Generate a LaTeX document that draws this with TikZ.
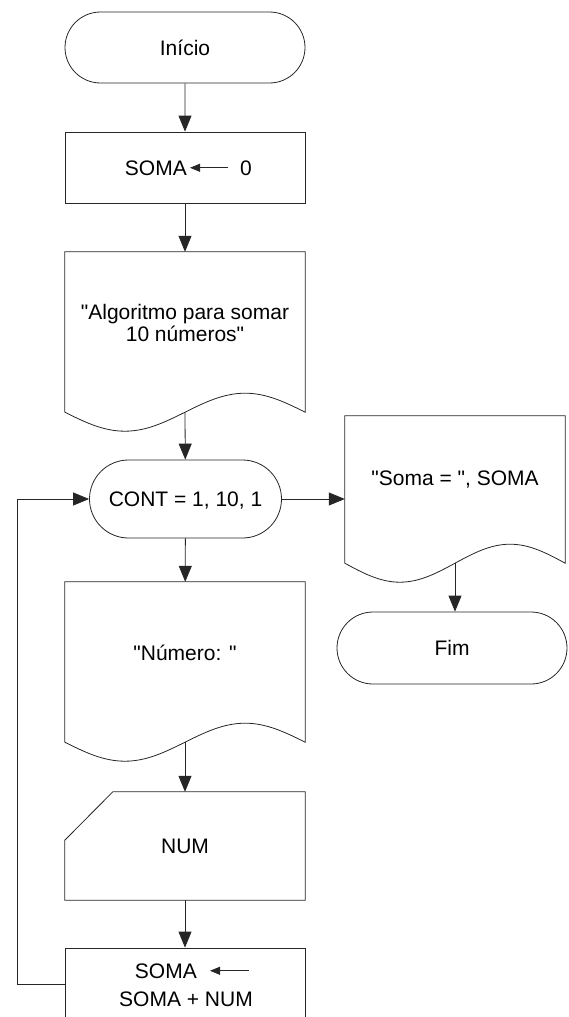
\documentclass[tikz,border=0pt]{standalone}
\usepackage{fontspec}
\setmainfont{Liberation Sans}
\usetikzlibrary{arrows.meta,calc,shapes.misc}

\newcommand{\aspas}{\textquotedbl}

\begin{document}
\begin{tikzpicture}[x=1pt, y=-1pt,
  every node/.style = {font=\fontsize{21}{22}\selectfont, inner sep=0pt},
  linha/.style = {line width=0.8pt, draw=black!85},
  terminal/.style = {
    linha, shape=rounded rectangle,
    text height=15pt, text depth=0pt,
  },
  processo/.style = {
    linha, shape=rectangle,
    minimum width=240pt, minimum height=71pt,
  },
  documento/.style = {shape=rectangle, align=center},
  seta/.style = {linha, -{Triangle[length=16pt,width=13pt]}},
  setinha/.style = {linha, -{Triangle[length=10pt,width=8pt]}},
]
  \useasboundingbox (0,0) rectangle (568,1017);

  \node[name=inicio, terminal, minimum width=240pt, minimum height=71pt]
    at (185,47.5) {Início};

  \node[name=zero, processo] at (185,167.5) {};
  \node[name=soma0, anchor=base east] at (187,175) {SOMA};
  \node[name=val0, anchor=base west] at (240,175) {0};
  \draw[setinha] ([xshift=-12pt]val0.west) -- ([xshift=3pt]soma0.east);

  \node[name=titulo, documento, minimum width=240pt, minimum height=141pt]
    at (185,322.5) {\aspas Algoritmo para somar\\10 números\aspas};

  \node[name=cont, terminal, minimum width=192pt, minimum height=78pt]
    at (185.5,499) {CONT = 1, 10, 1};

  \node[name=saida, documento, minimum width=220pt, minimum height=128pt]
    at (455,480) {\aspas Soma = \aspas, SOMA};

  \node[name=fim, terminal, minimum width=230pt, minimum height=72pt]
    at (452,648) {Fim};

  \node[name=numero, documento, minimum width=240pt, minimum height=141pt]
    at (185,652.5) {\aspas Número: \aspas};

  \node[name=leitura, shape=rectangle, minimum width=240pt, minimum height=108pt]
    at (185,846) {NUM};
  \draw[linha] ($(leitura.south west)+(0,-60)$) -- ($(leitura.north west)+(48,0)$)
    -- (leitura.north east) -- (leitura.south east) -- (leitura.south west) -- cycle;

  \node[name=acumula, processo, minimum height=90pt] at (185,993) {};
  \node[name=soma1, anchor=base east] at (197,978) {SOMA};
  \node[name=soma2, anchor=base] at (186,1006) {SOMA + NUM};
  \draw[setinha] ([xshift=52pt]soma1.east) -- ([xshift=13pt]soma1.east);

  \foreach \nome in {titulo, saida, numero}
    \draw[linha] ($(\nome.south west)+(0,19)$) -- (\nome.north west)
      -- (\nome.north east) -- ($(\nome.south east)+(0,19)$)
      sin ($(\nome.south east)!0.25!(\nome.south west)$)
      cos ($(\nome.south)+(0,19)$)
      sin ($(\nome.south east)!0.75!(\nome.south west)+(0,38)$)
      cos ($(\nome.south west)+(0,19)$);

  \coordinate (volta) at (17,984);

  \draw[seta] (inicio) -- (zero);
  \draw[seta] (zero) -- (titulo);
  \draw[seta] ($(titulo.south)+(0,19)$) -- (cont);
  \draw[seta] (cont) -- (numero);
  \draw[seta] (cont.east) -- (cont.east -| saida.west);
  \draw[seta] ($(saida.south)+(0,19)$) -- (saida.south |- fim.north);
  \draw[seta] ($(numero.south)+(0,19)$) -- (leitura);
  \draw[seta] (leitura) -- (acumula);
  \draw[seta] (acumula.north west |- volta) -- (volta) |- (cont.west);
\end{tikzpicture}
\end{document}
